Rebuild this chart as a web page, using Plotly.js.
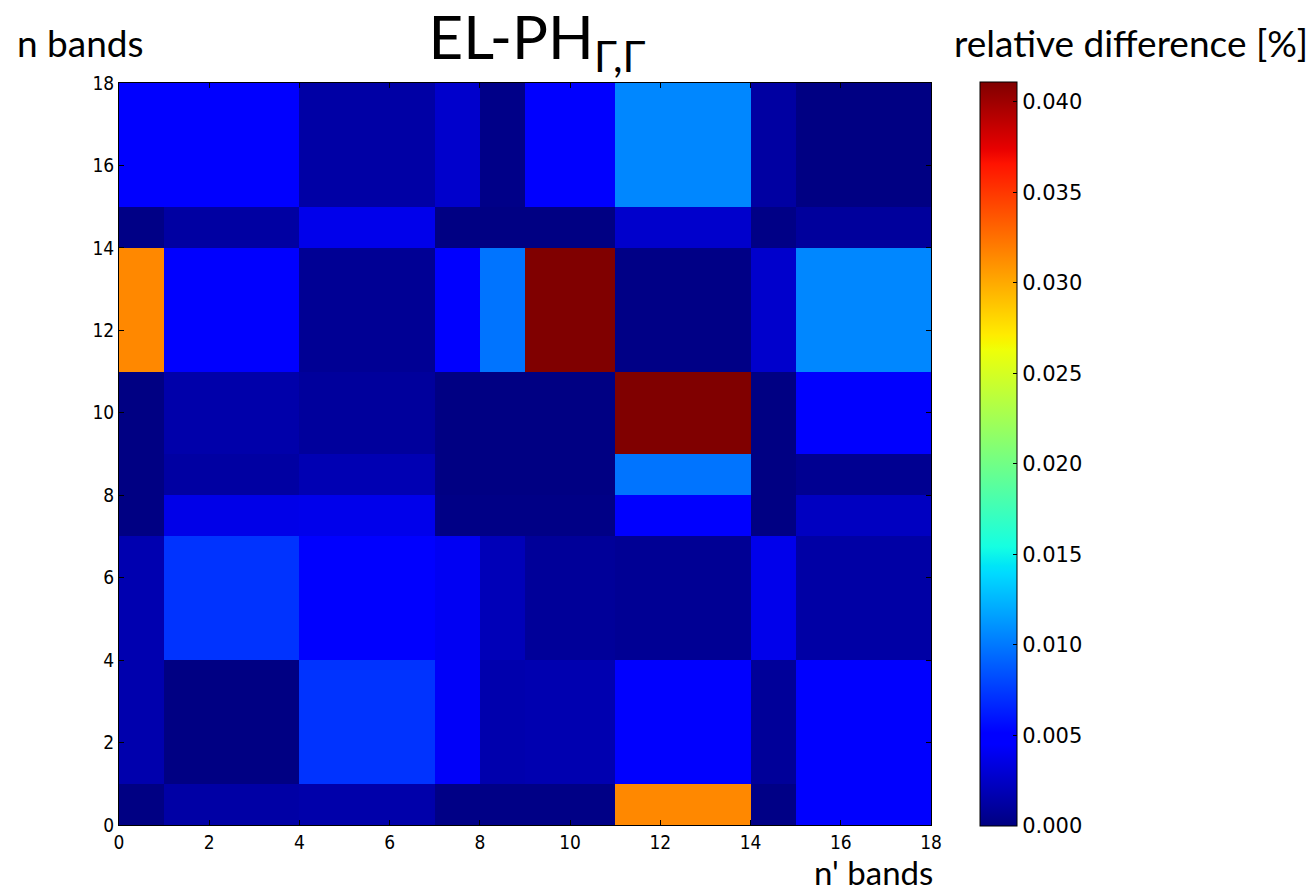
<!DOCTYPE html>
<html>
<head>
<meta charset="utf-8">
<script src="https://cdn.plot.ly/plotly-3.0.1.min.js"></script>
<style>html,body{margin:0;padding:0;background:#fff;}#chart{width:1312px;height:894px;}</style>
</head>
<body>
<div id="chart"></div>
<script>
// Block boundaries of the band groups (shared by n and n')
const bandEdges = [0, 1, 4, 7, 8, 9, 11, 14, 15, 18];
const tickValues = [0, 2, 4, 6, 8, 10, 12, 14, 16, 18];
const colorbarTicks = [0, 0.005, 0.010, 0.015, 0.020, 0.025, 0.030, 0.035, 0.040];

// relative difference [%], rows = n bands groups (bottom to top), cols = n' bands groups (left to right)
const row0  = [0.0001, 0.0013, 0.0015, 0.0002, 0.0002, 0.0002, 0.0315, 0.0002, 0.0048];
const row1  = [0.0016, 0.0001, 0.0072, 0.0043, 0.0016, 0.0017, 0.0048, 0.0009, 0.0048];
const row2  = [0.0017, 0.0072, 0.0046, 0.0041, 0.0020, 0.0009, 0.0007, 0.0038, 0.0013];
const row3  = [0.0001, 0.0037, 0.0038, 0.0002, 0.0002, 0.0002, 0.0049, 0.0001, 0.0023];
const row4  = [0.0001, 0.0012, 0.0018, 0.0001, 0.0001, 0.0001, 0.0098, 0.0001, 0.0006];
const row5  = [0.0001, 0.0015, 0.0010, 0.0001, 0.0001, 0.0001, 0.0411, 0.0001, 0.0049];
const row6  = [0.0315, 0.0049, 0.0007, 0.0048, 0.0098, 0.0411, 0.0002, 0.0027, 0.0106];
const row7  = [0.0002, 0.0012, 0.0038, 0.0001, 0.0001, 0.0001, 0.0027, 0.0002, 0.0010];
const row8  = [0.0049, 0.0049, 0.0013, 0.0027, 0.0003, 0.0049, 0.0106, 0.0012, 0.0001];
const zValues = [row0, row1, row2, row3, row4, row5, row6, row7, row8];

// matplotlib "jet" colormap, rebuilt from its segment data
const jetR = [[0,0],[0.35,0],[0.66,1],[0.89,1],[1,0.5]];
const jetG = [[0,0],[0.125,0],[0.375,1],[0.64,1],[0.91,0],[1,0]];
const jetB = [[0,0.5],[0.11,1],[0.34,1],[0.65,0],[1,0]];
function interp(seg, t){
  for (let i = 0; i < seg.length - 1; i++){
    const a = seg[i], b = seg[i+1];
    if (t >= a[0] && t <= b[0]) return a[1] + (b[1]-a[1]) * (t - a[0]) / (b[0] - a[0]);
  }
  return seg[seg.length-1][1];
}
const stops = [0,0.11,0.125,0.34,0.35,0.375,0.64,0.65,0.66,0.89,0.91,1];
const jet = stops.map(t => [t, 'rgb(' + Math.round(255*interp(jetR,t)) + ',' + Math.round(255*interp(jetG,t)) + ',' + Math.round(255*interp(jetB,t)) + ')']);

const zMax = Math.max(...zValues.flat());

const trace = {
  type: 'heatmap',
  x: bandEdges,
  y: bandEdges,
  z: zValues,
  zmin: 0,
  zmax: zMax,
  colorscale: jet,
  showscale: true,
  colorbar: {
    x: 1.0603, xanchor: 'left', xpad: 0,
    y: 0.5, yanchor: 'middle', ypad: 0,
    len: 1.003, lenmode: 'fraction',
    thickness: 37, thicknessmode: 'pixels',
    outlinewidth: 1, outlinecolor: '#000',
    tickvals: colorbarTicks,
    ticktext: colorbarTicks.map(v => v.toFixed(3)),
    ticks: 'inside', ticklen: 4, tickcolor: '#000',
    tickfont: {family: 'DejaVu Sans', size: 21, color: '#000'}
  },
  hoverinfo: 'x+y+z'
};

const axisCommon = {
  range: [0, 18],
  tickvals: tickValues,
  ticks: 'inside', ticklen: 5, tickwidth: 1, tickcolor: '#000',
  showline: true, linecolor: '#000', linewidth: 1, mirror: 'ticks',
  showgrid: false, zeroline: false,
  tickfont: {family: 'Liberation Sans Narrow, DejaVu Sans Condensed, DejaVu Sans', size: 19, color: '#000'}
};

const layout = {
  width: 1312, height: 894,
  margin: {l: 119, r: 381, t: 83, b: 69},
  paper_bgcolor: '#fff', plot_bgcolor: '#fff',
  showlegend: false,
  title: {
    text: 'EL-PH<sub>Γ,Γ</sub>',
    xref: 'container', yref: 'container',
    x: 537/1312, xanchor: 'center',
    y: 1 - 38/894, yanchor: 'middle',
    font: {family: 'Lato', size: 60, color: '#000'}
  },
  xaxis: Object.assign({}, axisCommon, {ticklabelstandoff: 0}),
  yaxis: Object.assign({}, axisCommon, {ticklabelstandoff: 0}),
  annotations: [
    {text: 'n bands', xref: 'paper', yref: 'paper', x: (15-119)/812, xanchor: 'left',
     y: (825-43)/742, yanchor: 'middle', showarrow: false,
     font: {family: 'Lato', size: 37, color: '#000'}},
    {text: 'relative difference [%]', xref: 'paper', yref: 'paper', x: (1131-119)/812, xanchor: 'center',
     y: (825-43)/742, yanchor: 'middle', showarrow: false,
     font: {family: 'Lato', size: 37, color: '#000'}},
    {text: "n' bands", xref: 'paper', yref: 'paper', x: (873-119)/812, xanchor: 'center',
     y: (825-872)/742, yanchor: 'middle', showarrow: false,
     font: {family: 'Lato', size: 33, color: '#000'}}
  ]
};

Plotly.newPlot('chart', [trace], layout, {displayModeBar: false, staticPlot: true});
</script>
</body>
</html>
